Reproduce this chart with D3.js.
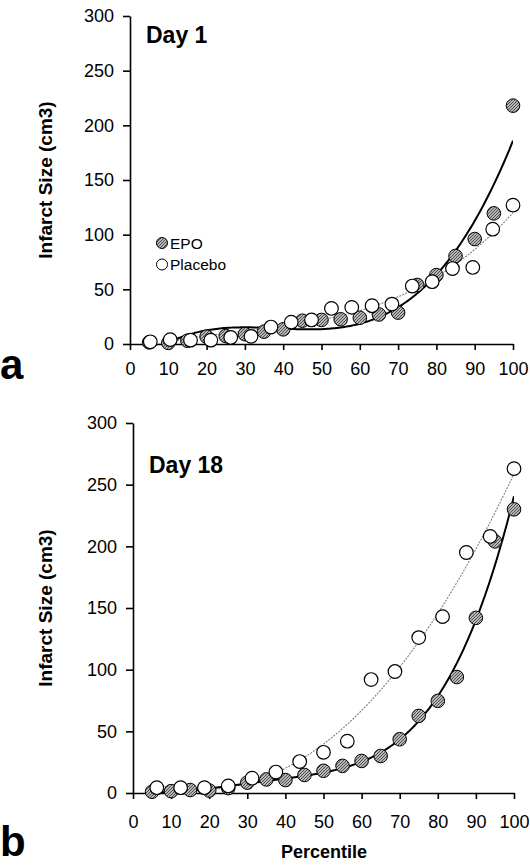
<!DOCTYPE html>
<html>
<head>
<meta charset="utf-8">
<script src="https://cdn.jsdelivr.net/npm/d3@7"></script>
<style>
  body { margin: 0; background: #fff; }
  svg { display: block; font-family: Arial, "Liberation Sans", sans-serif; }
  .axis path, .axis line { stroke: #000; stroke-width: 1.6; }
  .axis text { font-size: 18px; fill: #000; }
</style>
</head>
<body>
<svg id="chart" width="530" height="867"></svg>
<script>
// Day 1 data (percentile, infarct size cm3)
const day1EpoX = [5, 10, 15, 20, 25, 30, 35, 40, 45, 50, 55, 60, 65, 70, 75, 80, 85, 90, 95, 100]
const day1EpoY = [1.5, 1, 3, 6.7, 7.3, 9, 11.3, 13.4, 21.3, 22, 22.6, 24, 27, 28.7, 54, 63, 80.5, 96, 119.5, 218]
const day1PlaceboX = [5.3, 10.5, 15.8, 21.1, 26.3, 31.6, 36.8, 42.1, 47.4, 52.6, 57.9, 63.2, 68.4, 73.7, 78.9, 84.2, 89.5, 94.7, 100]
const day1PlaceboY = [2, 4, 3.5, 3.5, 6, 7, 15.5, 20, 22, 32.5, 33.5, 35, 36.5, 53, 57, 69, 70, 105, 127]

// Day 18 data
const day18EpoX = [5, 10, 15, 20, 25, 30, 35, 40, 45, 50, 55, 60, 65, 70, 75, 80, 85, 90, 95, 100]
const day18EpoY = [1, 1.5, 2.4, 2, 4, 8.4, 11, 10.5, 14.6, 18, 22, 26, 30, 43.6, 62.5, 74.7, 94, 142, 204, 230]
const day18PlaceboX = [6.25, 12.5, 18.75, 25, 31.25, 37.5, 43.75, 50, 56.25, 62.5, 68.75, 75, 81.25, 87.5, 93.75, 100]
const day18PlaceboY = [4.3, 4.3, 4.3, 5.7, 12, 17, 25.5, 33, 42, 92, 98.5, 126, 143, 195, 208, 263]

const xTicks = [0, 10, 20, 30, 40, 50, 60, 70, 80, 90, 100]
const yTicks = [0, 50, 100, 150, 200, 250, 300]
const seriesNames = ['EPO', 'Placebo']

const zip = (xs, ys) => xs.map((x, i) => ({ x: x, y: ys[i] }))

// least squares polynomial (trendline like the original)
function polyfit(pts, order) {
  const n = order + 1
  const s = 100 // scale x to keep the normal equations sane
  const A = d3.range(n).map(() => d3.range(n + 1).map(() => 0))
  pts.forEach(p => {
    const px = p.x / s
    for (let r = 0; r < n; r++) {
      for (let c = 0; c < n; c++) A[r][c] += Math.pow(px, r + c)
      A[r][n] += p.y * Math.pow(px, r)
    }
  })
  for (let i = 0; i < n; i++) {
    let m = i
    for (let k = i + 1; k < n; k++) if (Math.abs(A[k][i]) > Math.abs(A[m][i])) m = k
    const tmp = A[i]; A[i] = A[m]; A[m] = tmp
    for (let k = i + 1; k < n; k++) {
      const f = A[k][i] / A[i][i]
      for (let c = i; c <= n; c++) A[k][c] -= f * A[i][c]
    }
  }
  const coef = new Array(n).fill(0)
  for (let i = n - 1; i >= 0; i--) {
    let t = A[i][n]
    for (let c = i + 1; c < n; c++) t -= A[i][c] * coef[c]
    coef[i] = t / A[i][i]
  }
  return x => coef.reduce((acc, c, i) => acc + c * Math.pow(x / s, i), 0)
}

const svg = d3.select('#chart')
const defs = svg.append('defs')

const hatch = defs.append('pattern')
  .attr('id', 'hatch')
  .attr('patternUnits', 'userSpaceOnUse')
  .attr('width', 3)
  .attr('height', 3)
hatch.append('rect').attr('width', 3).attr('height', 3).attr('fill', '#b5b5b5')
hatch.append('path').attr('d', 'M-1,1 l2,-2 M0,3 l3,-3 M2,4 l2,-2')
  .attr('stroke', '#444').attr('stroke-width', 0.9)

const panels = [
  {
    id: 'a', title: 'Day 1', epo: zip(day1EpoX, day1EpoY), placebo: zip(day1PlaceboX, day1PlaceboY),
    xRange: [130, 513], yRange: [344, 16], titlePos: [146, 43], letterY: 379,
    tickLabelDy: 31, legend: true, epoOrder: 3, placeboOrder: 3
  },
  {
    id: 'b', title: 'Day 18', epo: zip(day18EpoX, day18EpoY), placebo: zip(day18PlaceboX, day18PlaceboY),
    xRange: [133, 514], yRange: [793, 423], titlePos: [149, 473], letterY: 856,
    tickLabelDy: 35, legend: false, epoOrder: 4, placeboOrder: 3
  }
]

panels.forEach(p => {
  const x = d3.scaleLinear().domain([0, 100]).range(p.xRange)
  const y = d3.scaleLinear().domain([0, 300]).range(p.yRange)
  const g = svg.append('g').attr('class', 'panel-' + p.id)

  defs.append('clipPath').attr('id', 'clip-' + p.id)
    .append('rect')
    .attr('x', p.xRange[0]).attr('y', p.yRange[1])
    .attr('width', p.xRange[1] - p.xRange[0]).attr('height', p.yRange[0] - p.yRange[1])

  // axes
  g.append('g')
    .attr('class', 'axis')
    .attr('transform', `translate(0,${ p.yRange[0] })`)
    .call(d3.axisBottom(x).tickValues(xTicks).tickSize(6).tickSizeOuter(0).tickPadding(8))
    .call(a => a.selectAll('text').attr('dy', null).attr('y', p.tickLabelDy))

  g.append('g')
    .attr('class', 'axis')
    .attr('transform', `translate(${ p.xRange[0] },0)`)
    .call(d3.axisLeft(y).tickValues(yTicks).tickSize(7).tickSizeOuter(0).tickPadding(9))

  // y label
  g.append('text')
    .attr('transform', `translate(52,${ (p.yRange[0] + p.yRange[1]) / 2 }) rotate(-90)`)
    .attr('text-anchor', 'middle')
    .attr('font-size', 19)
    .attr('font-weight', 'bold')
    .text('Infarct Size (cm3)')

  // fits
  const line = d3.line().x(d => x(d))
  const fitPlacebo = polyfit(p.placebo, p.placeboOrder)
  const fitEpo = polyfit(p.epo, p.epoOrder)
  const xs = d3.range(5, 100.01, 0.5)
  const plot = g.append('g').attr('clip-path', `url(#clip-${ p.id })`)

  plot.append('path')
    .attr('d', line.y(d => y(fitPlacebo(d)))(xs))
    .attr('fill', 'none')
    .attr('stroke', '#808080')
    .attr('stroke-width', 1.1)
    .attr('stroke-dasharray', '2,1.2')

  plot.append('path')
    .attr('d', line.y(d => y(fitEpo(d)))(xs))
    .attr('fill', 'none')
    .attr('stroke', '#000')
    .attr('stroke-width', 2)

  // points
  g.append('g').selectAll('circle').data(p.epo)
    .enter().append('circle')
    .attr('cx', d => x(d.x))
    .attr('cy', d => y(d.y))
    .attr('r', 6.8)
    .attr('fill', 'url(#hatch)')
    .attr('stroke', '#000')
    .attr('stroke-width', 1)

  g.append('g').selectAll('circle').data(p.placebo)
    .enter().append('circle')
    .attr('cx', d => x(d.x))
    .attr('cy', d => y(d.y))
    .attr('r', 6.8)
    .attr('fill', '#fff')
    .attr('stroke', '#000')
    .attr('stroke-width', 1.2)

  // title
  g.append('text')
    .attr('x', p.titlePos[0]).attr('y', p.titlePos[1])
    .attr('font-size', 23)
    .attr('font-weight', 'bold')
    .text(p.title)

  // panel letter
  g.append('text')
    .attr('x', 0).attr('y', p.letterY)
    .attr('font-size', 42)
    .attr('font-weight', 'bold')
    .text(p.id)

  if (p.legend) {
    const legend = g.append('g').attr('class', 'legend')
      .attr('transform', 'translate(162,243)')
    const items = legend.selectAll('g').data(seriesNames)
      .enter().append('g')
      .attr('transform', (d, i) => `translate(0,${ i * 21.5 })`)
    items.append('circle')
      .attr('r', 5.5)
      .attr('fill', d => d === 'EPO' ? 'url(#hatch)' : '#fff')
      .attr('stroke', '#000')
    items.append('text')
      .attr('x', 8).attr('dy', 5.5)
      .attr('font-size', 15.5)
      .text(d => d)
  }
})

svg.append('text')
  .attr('x', 324).attr('y', 858)
  .attr('text-anchor', 'middle')
  .attr('font-size', 18)
  .attr('font-weight', 'bold')
  .text('Percentile')
</script>
</body>
</html>
